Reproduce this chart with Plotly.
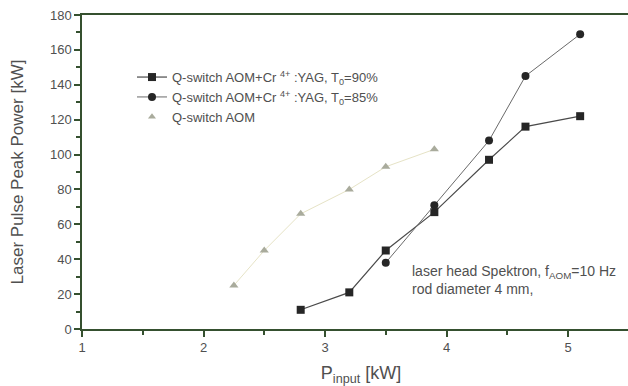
import plotly.graph_objects as go

# Data
x_sq = [2.8, 3.2, 3.5, 3.9, 4.35, 4.65, 5.1]
y_sq = [11, 21, 45, 67, 97, 116, 122]
x_ci = [3.5, 3.9, 4.35, 4.65, 5.1]
y_ci = [38, 71, 108, 145, 169]
x_tr = [2.25, 2.5, 2.8, 3.2, 3.5, 3.9]
y_tr = [25, 45, 66, 80, 93, 103]

name_sq = "Q-switch AOM+Cr <sup>4+</sup> :YAG, T<sub>0</sub>=90%"
name_ci = "Q-switch AOM+Cr <sup>4+</sup> :YAG, T<sub>0</sub>=85%"
name_tr = "Q-switch AOM"

axis_col = "#35502f"
text_col = "#505050"
font = "Liberation Sans, Arial, sans-serif"

W = 640  # figure extends past the 628px window so the right plot edge is cropped
plot_w = W - 82

fig = go.Figure()
fig.add_trace(go.Scatter(x=x_sq, y=y_sq, mode="lines+markers", name=name_sq,
                         line=dict(color="#4a4a4a", width=1.2),
                         marker=dict(symbol="square", size=8, color="#262626")))
fig.add_trace(go.Scatter(x=x_ci, y=y_ci, mode="lines+markers", name=name_ci,
                         line=dict(color="#6a6a6a", width=1),
                         marker=dict(symbol="circle", size=8, color="#262626")))
fig.add_trace(go.Scatter(x=x_tr, y=y_tr, mode="lines+markers", name=name_tr,
                         showlegend=False,
                         line=dict(color="#e6e3c6", width=1),
                         marker=dict(symbol="triangle-up", size=8, color="#a9ab9c")))
fig.add_trace(go.Scatter(x=[None], y=[None], mode="markers", name=name_tr,
                         marker=dict(symbol="triangle-up", size=7, color="#a9ab9c")))

fig.add_annotation(x=(410 - 82) / plot_w, y=(329 - 261) / 314, xref="paper", yref="paper",
                   xanchor="left", yanchor="top", align="left", showarrow=False,
                   text="laser head Spektron, f<sub>AOM</sub>=10 Hz<br>rod diameter 4 mm,",
                   font=dict(size=14, color=text_col, family=font))

fig.update_layout(
    width=W, height=386,
    margin=dict(l=82, r=0, t=15, b=57),
    paper_bgcolor="white", plot_bgcolor="white",
    font=dict(family=font, size=13, color=text_col),
    showlegend=True,
    legend=dict(x=(132 - 82) / plot_w, y=0.85, xanchor="left", yanchor="top",
                bgcolor="rgba(0,0,0,0)", font=dict(size=13, color=text_col),
                tracegroupgap=0),
    xaxis=dict(range=[1, 1 + plot_w / 121.5], tickmode="linear", tick0=1, dtick=1,
               ticks="outside", ticklen=6, tickcolor=axis_col, tickwidth=1.5,
               minor=dict(ticks="outside", ticklen=4, dtick=0.5, tick0=1, tickcolor=axis_col),
               showline=True, linecolor=axis_col, linewidth=1.5, mirror=True,
               showgrid=False, zeroline=False,
               tickfont=dict(size=13, color=text_col),
               title=dict(text="P<sub>input</sub> [kW]", font=dict(size=18, color=text_col), standoff=15)),
    yaxis=dict(range=[0, 180], tickmode="linear", tick0=0, dtick=20,
               ticks="outside", ticklen=6, tickcolor=axis_col, tickwidth=1.5,
               minor=dict(ticks="outside", ticklen=4, dtick=10, tickcolor=axis_col),
               showline=True, linecolor=axis_col, linewidth=1.5,
               showgrid=False, zeroline=False,
               tickfont=dict(size=13, color=text_col),
               title=dict(text="Laser Pulse Peak Power [kW]", font=dict(size=17, color=text_col), standoff=22)),
)

fig.write_html("out.html", config={"displayModeBar": False},
               post_script="document.body.style.margin='0';")
